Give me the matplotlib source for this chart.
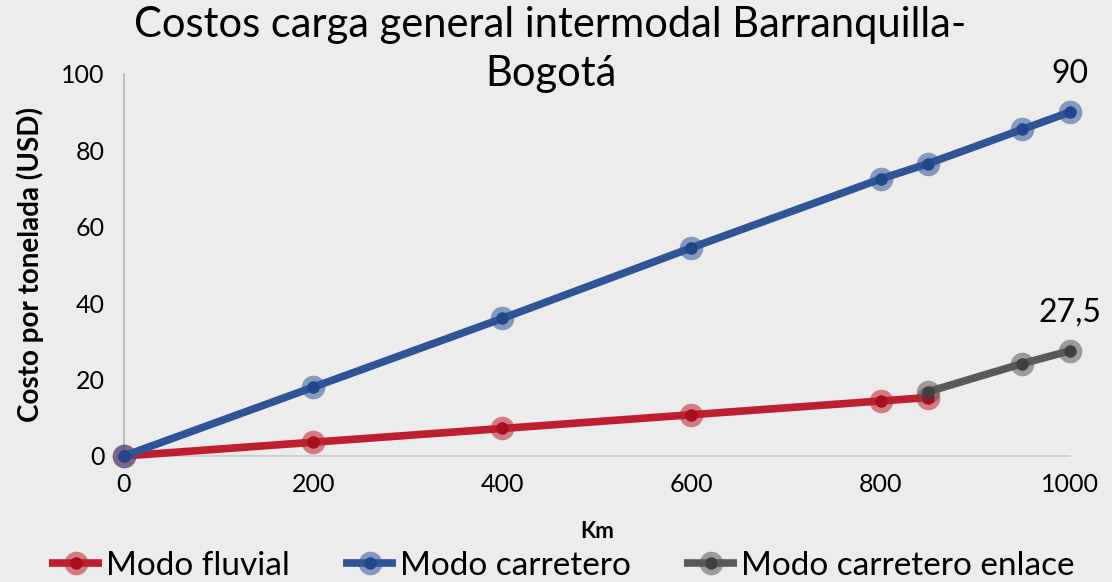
import matplotlib
matplotlib.use("Agg")
import matplotlib.pyplot as plt
from matplotlib.legend_handler import HandlerTuple
from matplotlib.colors import to_rgba

# data
km_fluvial = [0, 200, 400, 600, 800, 850]
costo_fluvial = [0, 3.6, 7.2, 10.8, 14.4, 15.3]

km_carretero = [0, 200, 400, 600, 800, 850, 950, 1000]
costo_carretero = [0, 18, 36, 54.5, 72.5, 76.5, 85.5, 90]

km_enlace = [850, 950, 1000]
costo_enlace = [16.8, 24.2, 27.5]

series = [
    ("Modo fluvial", km_fluvial, costo_fluvial, "#be1e2d", "#a5101f"),
    ("Modo carretero", km_carretero, costo_carretero, "#2f5597", "#22468a"),
    ("Modo carretero enlace", km_enlace, costo_enlace, "#595959", "#404040"),
]

plt.rcParams["font.family"] = ["Lato", "DejaVu Sans"]

fig = plt.figure(figsize=(11.12, 5.82), dpi=100)
fig.patch.set_facecolor("#ececec")
ax = fig.add_axes([0.1115, 0.2165, 0.8505, 0.6565])
ax.set_facecolor("#ececec")

handles = []
for name, xs, ys, col, dark in series:
    ln, = ax.plot(xs, ys, color=col, lw=5.5, marker="o", markersize=17,
                  markerfacecolor=to_rgba(col, 0.55), markeredgecolor=to_rgba(col, 0.0),
                  clip_on=False, zorder=3, solid_capstyle="butt")
    dots, = ax.plot(xs, ys, ls="none", marker="o", markersize=8, color=dark,
                    clip_on=False, zorder=4)
    handles.append((ln, dots))

# data labels at the last points
ax.annotate("90", (km_carretero[-1], costo_carretero[-1]), xytext=(0, 17),
            textcoords="offset points", ha="center", va="bottom", fontsize=23)
ax.annotate("27,5", (km_enlace[-1], costo_enlace[-1]), xytext=(0, 17),
            textcoords="offset points", ha="center", va="bottom", fontsize=23)

ax.set_xlim(0, 1000)
ax.set_ylim(0, 100)
ax.set_xticks([0, 200, 400, 600, 800, 1000])
ax.set_yticks([0, 20, 40, 60, 80, 100])
ax.tick_params(length=0, labelsize=18, pad=14)
ax.tick_params(axis="x", pad=12)

for s in ["top", "right"]:
    ax.spines[s].set_visible(False)
ax.spines["left"].set_color("#b8b8b8")
ax.spines["bottom"].set_color("#c8c8c8")
ax.spines["left"].set_linewidth(1.2)
ax.spines["bottom"].set_linewidth(1.2)

ax.set_xlabel("Km", fontsize=16, fontweight="bold", labelpad=18)
ax.set_ylabel("Costo por tonelada (USD)", fontsize=20, fontweight="bold", labelpad=12)

fig.text(0.495, 0.99, "Costos carga general intermodal Barranquilla-\nBogotá",
         ha="center", va="top", fontsize=30, linespacing=1.35)

fig.legend(handles, [s[0] for s in series], loc="lower center",
           bbox_to_anchor=(0.505, -0.05), ncol=3, frameon=False, fontsize=24,
           handler_map={tuple: HandlerTuple(ndivide=1)},
           handlelength=1.6, handletextpad=0.1, columnspacing=1.6)

fig.savefig("out.png", dpi=100, facecolor=fig.get_facecolor())
